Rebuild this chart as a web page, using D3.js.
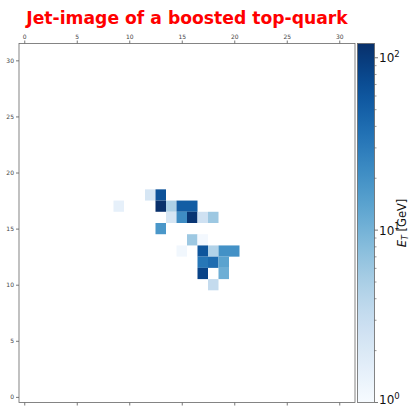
<!DOCTYPE html>
<html>
<head>
<meta charset="utf-8">
<script src="https://cdn.jsdelivr.net/npm/d3@7"></script>
<style>
  body { margin: 0; background: #fff; }
  text { font-family: "DejaVu Sans", sans-serif; }
</style>
</head>
<body>
<div id="chart"></div>
<script>
// jet-image pixels (eta index, phi index, E_T in GeV)
const cellX = [12, 13, 9, 13, 14, 15, 16, 14, 15, 16, 17, 18, 13, 16, 17, 15, 17, 18, 19, 20, 17, 18, 19, 17, 19, 18];
const cellY = [18, 18, 17, 17, 17, 17, 17, 16, 16, 16, 16, 16, 15, 14, 14, 13, 13, 13, 13, 13, 12, 12, 12, 11, 11, 10];
const cellE = [2.2, 65, 1.5, 121, 4.8, 53, 53, 2.2, 22, 110, 2.6, 6, 18, 6, 1.1, 1.15, 62, 4.5, 20, 20, 33, 40, 14, 85, 11, 3.3];
const axisTicks = [0, 5, 10, 15, 20, 25, 30];
const cbarMajor = [1, 10, 100];
const cbarMinor = [2, 3, 4, 5, 6, 7, 8, 9, 20, 30, 40, 50, 60, 70, 80, 90];
const vmin = 1, vmax = 121;

const svgWidth = 409, svgHeight = 407;
const plot = { left: 19, right: 355, top: 43.5, bottom: 402.5 };
const cbar = { left: 357.5, right: 374.5 };

let svg = d3.select("#chart").append("svg")
    .attr("width", svgWidth)
    .attr("height", svgHeight);

let xScale = d3.scaleLinear().domain([-0.5, 31.5]).range([plot.left, plot.right]);
let yScale = d3.scaleLinear().domain([-0.5, 31.5]).range([plot.bottom, plot.top]);
let cScale = d3.scaleLog().domain([vmin, vmax]).range([plot.bottom, plot.top]);
let colour = d3.scaleSequentialLog(d3.interpolateBlues).domain([vmin, vmax]);

// title
svg.append("text")
    .attr("x", (plot.left + plot.right) / 2)
    .attr("y", 24)
    .attr("text-anchor", "middle")
    .style("font-size", "17.2px")
    .style("font-weight", "bold")
    .style("fill", "red")
    .text("Jet-image of a boosted top-quark");

// pixels
let cells = cellE.map((e, i) => ({ x: cellX[i], y: cellY[i], e: e }));
svg.append("g").selectAll("rect")
    .data(cells)
    .join("rect")
    .attr("x", d => xScale(d.x - 0.5))
    .attr("y", d => yScale(d.y + 0.5))
    .attr("width", d => xScale(d.x + 0.5) - xScale(d.x - 0.5))
    .attr("height", d => yScale(d.y - 0.5) - yScale(d.y + 0.5))
    .style("fill", d => colour(d.e));

// axes
let topAxis = svg.append("g")
    .attr("transform", `translate(0,${plot.top})`)
    .call(d3.axisTop(xScale).tickValues(axisTicks).tickSize(3).tickPadding(2));
let bottomAxis = svg.append("g")
    .attr("transform", `translate(0,${plot.bottom})`)
    .call(d3.axisBottom(xScale).tickValues(axisTicks).tickSize(3).tickFormat(""));
let leftAxis = svg.append("g")
    .attr("transform", `translate(${plot.left},0)`)
    .call(d3.axisLeft(yScale).tickValues(axisTicks).tickSize(3).tickPadding(2));
[topAxis, bottomAxis, leftAxis].forEach(a => {
    a.select(".domain").remove();
    a.selectAll("line").attr("stroke", "#555").attr("stroke-width", 0.8);
    a.selectAll("text").style("font-size", "6px").style("fill", "#444")
        .style("font-family", "DejaVu Sans, sans-serif");
});

// frame
svg.append("rect")
    .attr("x", plot.left).attr("y", plot.top)
    .attr("width", plot.right - plot.left)
    .attr("height", plot.bottom - plot.top)
    .style("fill", "none").style("stroke", "#666").style("stroke-width", 0.8);

// colorbar gradient
let defs = svg.append("defs");
let grad = defs.append("linearGradient")
    .attr("id", "cbar-grad")
    .attr("x1", 0).attr("y1", 1).attr("x2", 0).attr("y2", 0);
d3.range(0, 1.0001, 0.05).forEach(t => {
    grad.append("stop").attr("offset", t).attr("stop-color", d3.interpolateBlues(t));
});
svg.append("rect")
    .attr("x", cbar.left).attr("y", plot.top)
    .attr("width", cbar.right - cbar.left)
    .attr("height", plot.bottom - plot.top)
    .style("fill", "url(#cbar-grad)")
    .style("stroke", "#666").style("stroke-width", 0.8);

// colorbar ticks
let cAxis = svg.append("g").attr("transform", `translate(${cbar.right},0)`);
cAxis.selectAll(".minor")
    .data(cbarMinor)
    .join("line")
    .attr("x1", 0).attr("x2", 2)
    .attr("y1", d => cScale(d)).attr("y2", d => cScale(d))
    .attr("stroke", "#555").attr("stroke-width", 0.6);
cAxis.selectAll(".major")
    .data(cbarMajor)
    .join("line")
    .attr("x1", 0).attr("x2", 3.5)
    .attr("y1", d => cScale(d)).attr("y2", d => cScale(d))
    .attr("stroke", "#555").attr("stroke-width", 0.8);
let cLabels = cAxis.selectAll(".lab")
    .data(cbarMajor)
    .join("text")
    .attr("x", 4.5)
    .attr("y", d => Math.min(cScale(d) + 4.5, 404))
    .style("font-size", "12px")
    .style("fill", "#111");
cLabels.append("tspan").text("10");
cLabels.append("tspan")
    .attr("dy", -5.5)
    .style("font-size", "8.5px")
    .text(d => Math.round(Math.log10(d)));

// colorbar label
let cTitle = svg.append("text")
    .attr("transform", `translate(405.5,${(plot.top + plot.bottom) / 2}) rotate(-90)`)
    .attr("text-anchor", "middle")
    .style("font-size", "11.5px")
    .style("fill", "#111");
cTitle.append("tspan").style("font-style", "italic").text("E");
cTitle.append("tspan").attr("dy", 2.5).style("font-size", "8px").style("font-style", "italic").text("T");
cTitle.append("tspan").attr("dy", -2.5).text(" [GeV]");
</script>
</body>
</html>
